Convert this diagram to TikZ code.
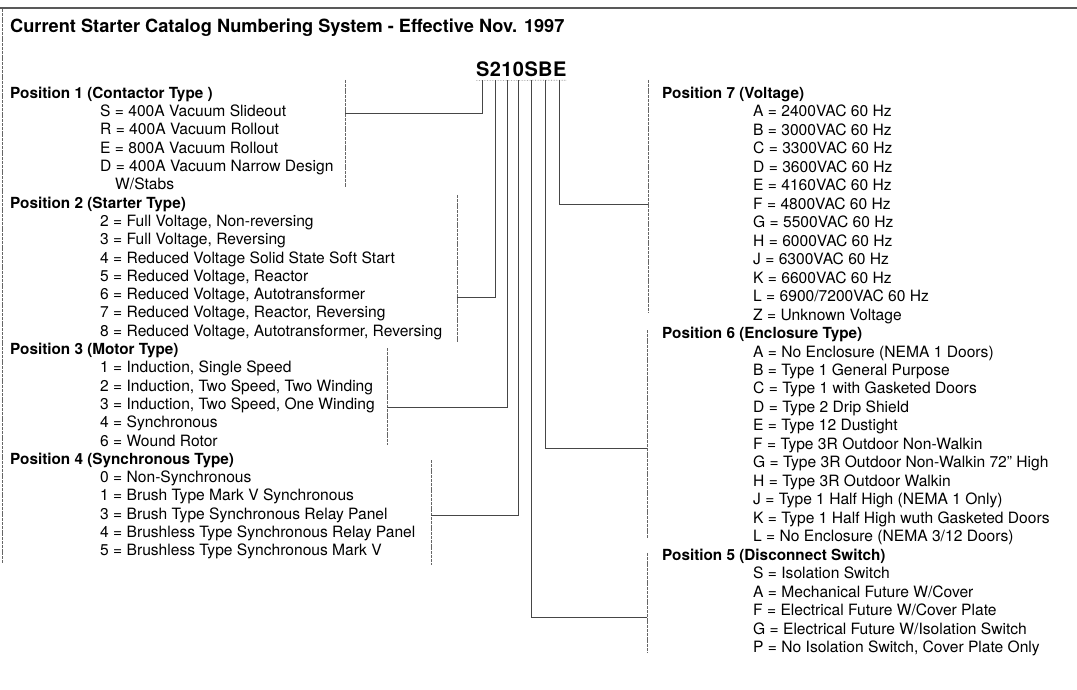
\documentclass[tikz,border=0pt]{standalone}
\usepackage{fontspec}
\setmainfont{TeX Gyre Heros}
\usetikzlibrary{positioning}
\tikzset{
  head/.style={anchor=base west, inner sep=0pt, font=\bfseries\fontsize{15.3}{18}\selectfont},
  entry/.style={anchor=base west, inner sep=0pt, font=\fontsize{15.6}{18}\selectfont},
  codechar/.style={inner sep=0pt, font=\bfseries\fontsize{20}{24}\selectfont},
  lead/.style={line width=0.9pt, gray!55!black},
  bracket/.style={line width=0.7pt, gray!80!black, dash pattern=on 3pt off 0.8pt},
}

\begin{document}
\begin{tikzpicture}[x=1pt, y=-1pt]
\useasboundingbox (0,0) rectangle (1077,690);
% frame and title
\draw[line width=2pt, gray!70!black] (0,8) -- (1077,8);
\draw[bracket] (2.5,9) -- (2.5,563);
\node[anchor=base west, inner sep=0pt, font=\bfseries\fontsize{18.2}{22}\selectfont] (title) at (10,33)
  {Current Starter Catalog Numbering System - Effective Nov. 1997};

% catalog number
\node[codechar, anchor=base west] (c1) at (476,77) {S};
\node[codechar, base right=0pt of c1] (c2) {2};
\node[codechar, base right=0pt of c2] (c3) {1};
\node[codechar, base right=0pt of c3] (c4) {0};
\node[codechar, base right=0pt of c4] (c5) {S};
\node[codechar, base right=0pt of c5] (c6) {B};
\node[codechar, base right=0pt of c6] (c7) {E};
\draw[gray, densely dotted, line width=0.6pt] ([yshift=-3pt]c1.south west) -- ([yshift=-3pt]c7.south east);

% left column
\node[head] (pos1) at (10,98.3) {Position 1 (Contactor Type )};
\foreach \txt [count=\i] in {S = 400A Vacuum Slideout, R = 400A Vacuum Rollout,
    E = 800A Vacuum Rollout, D = 400A Vacuum Narrow Design}
  \node[entry] (pos1-\i) at (100,{98.3+18.3*\i}) {\txt};
\node[entry] (pos1-5) at (115,{98.3+18.3*5}) {W/Stabs};

\node[head] (pos2) at (10,{98.3+18.3*6}) {Position 2 (Starter Type)};
\foreach \txt [count=\i from 7] in {{2 = Full Voltage, Non-reversing}, {3 = Full Voltage, Reversing},
    4 = Reduced Voltage Solid State Soft Start, {5 = Reduced Voltage, Reactor},
    {6 = Reduced Voltage, Autotransformer}, {7 = Reduced Voltage, Reactor, Reversing},
    {8 = Reduced Voltage, Autotransformer, Reversing}}
  \node[entry] (pos2-\i) at (100,{98.3+18.3*\i}) {\txt};

\node[head] (pos3) at (10,{98.3+18.3*14}) {Position 3 (Motor Type)};
\foreach \txt [count=\i from 15] in {{1 = Induction, Single Speed}, {2 = Induction, Two Speed, Two Winding},
    {3 = Induction, Two Speed, One Winding}, 4 = Synchronous, 6 = Wound Rotor}
  \node[entry] (pos3-\i) at (100,{98.3+18.3*\i}) {\txt};

\node[head] (pos4) at (10,{98.3+18.3*20}) {Position 4 (Synchronous Type)};
\foreach \txt [count=\i from 21] in {0 = Non-Synchronous, 1 = Brush Type Mark V Synchronous,
    3 = Brush Type Synchronous Relay Panel, 4 = Brushless Type Synchronous Relay Panel,
    5 = Brushless Type Synchronous Mark V}
  \node[entry] (pos4-\i) at (100,{98.3+18.3*\i}) {\txt};

% right column
\node[head] (pos7) at (662,98.3) {Position 7 (Voltage)};
\foreach \txt [count=\i] in {A = 2400VAC 60 Hz, B = 3000VAC 60 Hz, C = 3300VAC 60 Hz,
    D = 3600VAC 60 Hz, E = 4160VAC 60 Hz, F = 4800VAC 60 Hz, G = 5500VAC 60 Hz,
    H = 6000VAC 60 Hz, J = 6300VAC 60 Hz, K = 6600VAC 60 Hz, L = 6900/7200VAC 60 Hz,
    Z = Unknown Voltage}
  \node[entry] (pos7-\i) at (753,{98.3+18.48*\i}) {\txt};

\node[head] (pos6) at (662,{98.3+18.48*13}) {Position 6 (Enclosure Type)};
\foreach \txt [count=\i from 14] in {A = No Enclosure (NEMA 1 Doors), B = Type 1 General Purpose,
    C = Type 1 with Gasketed Doors, D = Type 2 Drip Shield, E = Type 12 Dustight,
    F = Type 3R Outdoor Non-Walkin, G = Type 3R Outdoor Non-Walkin 72" High,
    H = Type 3R Outdoor Walkin, J = Type 1 Half High (NEMA 1 Only),
    K = Type 1 Half High wuth Gasketed Doors, L = No Enclosure (NEMA 3/12 Doors)}
  \node[entry] (pos6-\i) at (753,{98.3+18.48*\i}) {\txt};

\node[head] (pos5) at (662,{98.3+18.48*25}) {Position 5 (Disconnect Switch)};
\foreach \txt [count=\i from 26] in {S = Isolation Switch, A = Mechanical Future W/Cover,
    F = Electrical Future W/Cover Plate, G = Electrical Future W/Isolation Switch,
    {P = No Isolation Switch, Cover Plate Only}}
  \node[entry] (pos5-\i) at (753,{98.3+18.48*\i}) {\txt};

% brackets
\draw[bracket] (345,80) -- (345,187);
\draw[bracket] (457,195) -- (457,343);
\draw[bracket] (387,348) -- (387,445);
\draw[bracket] (431,460) -- (431,565);
\draw[bracket] (648,80) -- (648,313);
\draw[bracket] (647,330) -- (647,538);
\draw[bracket] (647,553) -- (647,652);
\coordinate (b1) at (345,113);
\coordinate (b2) at (457,297);
\coordinate (b3) at (387,407);
\coordinate (b4) at (431,515);
\coordinate (b5) at (647,617);
\coordinate (b6) at (647,448);
\coordinate (b7) at (648,204);

% leads from the catalog number
\foreach \k in {1,...,7}
  \draw[lead] ([yshift=-3pt]c\k.south) |- (b\k);
\end{tikzpicture}
\end{document}
